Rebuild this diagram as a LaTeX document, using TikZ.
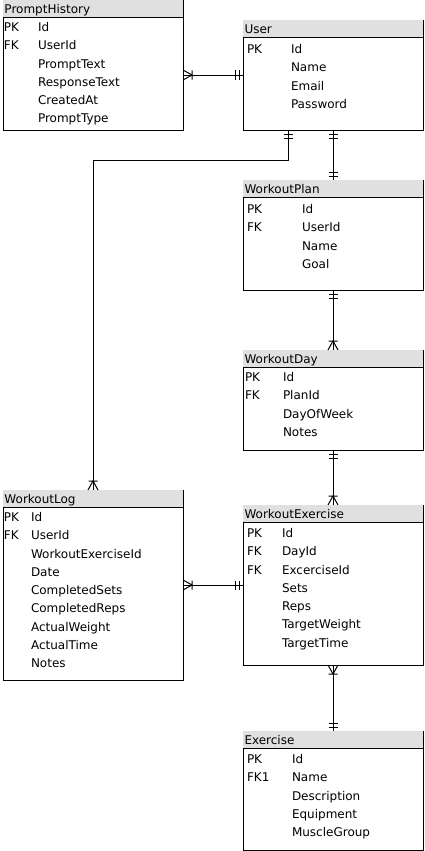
\documentclass[tikz,border=0pt]{standalone}
\usepackage{fontspec}
\setmainfont{DejaVu Sans}
\definecolor{hdr}{RGB}{224,224,224}
\tikzset{
  tblline/.style={line width=1pt, draw=black},
  lbl/.style={inner sep=0pt, outer sep=0pt, font=\fontsize{12}{14}\selectfont, text=black},
  conn/.style={line width=1pt, draw=black},
  pics/crow/.style={code={\draw[conn] (0,-5)--(9,0)--(0,5) (9,-4.5)--(9,4.5);}},
  pics/bars/.style={code={\draw[conn] (4,-4.5)--(4,4.5) (8,-4.5)--(8,4.5);}},
}
% name, x, top, header bottom, bottom, title
\newcommand{\ertable}[6]{%
  \pgfmathsetmacro\tblh{#5-#3}%
  \node[draw=none, minimum width=180pt, minimum height=\tblh pt, inner sep=0pt, outer sep=0pt, anchor=north west] (#1) at (#2,#3) {};
  \fill[hdr] (#2,#3) rectangle (#2+180,#4);
  \draw[tblline] (#2,#4) rectangle (#2+180,#5);
  \draw[tblline] (#2+180,#3) -- (#2+180,#4);
  \node[lbl, anchor=base west] (#1-title) at (#2+1.5,{(#3+#4)/2+4.4}) {#6};
}
% name, keyx, fieldx, y, key, field
\newcommand{\fld}[6]{%
  \node[lbl, anchor=base west] (#1k) at (#2,#4+4.4) {#5};
  \node[lbl, anchor=base west] (#1f) at (#3,#4+4.4) {#6};
}
\begin{document}
\begin{tikzpicture}[x=1pt,y=-1pt]
\useasboundingbox (0,0) rectangle (424,851);

% PromptHistory
\ertable{ph}{3}{0}{17.5}{130}{PromptHistory}
\fld{ph1}{4}{38}{27}{PK}{Id}
\fld{ph2}{4}{38}{45.3}{FK}{UserId}
\fld{ph3}{4}{38}{63.6}{}{PromptText}
\fld{ph4}{4}{38}{81.9}{}{ResponseText}
\fld{ph5}{4}{38}{100.2}{}{CreatedAt}
\fld{ph6}{4}{38}{118.5}{}{PromptType}

% User
\ertable{user}{243}{20}{37.5}{130}{User}
\fld{us1}{247}{291}{49}{PK}{Id}
\fld{us2}{247}{291}{67.3}{}{Name}
\fld{us3}{247}{291}{85.6}{}{Email}
\fld{us4}{247}{291}{103.9}{}{Password}

% WorkoutPlan
\ertable{plan}{243}{180}{197.5}{290}{WorkoutPlan}
\fld{pl1}{247}{302}{209}{PK}{Id}
\fld{pl2}{247}{302}{227.3}{FK}{UserId}
\fld{pl3}{247}{302}{245.6}{}{Name}
\fld{pl4}{247}{302}{263.9}{}{Goal}

% WorkoutDay
\ertable{day}{243}{350}{367.5}{450}{WorkoutDay}
\fld{dy1}{245}{283}{377}{PK}{Id}
\fld{dy2}{245}{283}{395.3}{FK}{PlanId}
\fld{dy3}{245}{283}{413.6}{}{DayOfWeek}
\fld{dy4}{245}{283}{431.9}{}{Notes}

% WorkoutExercise
\ertable{wex}{243}{505}{522.5}{665}{WorkoutExercise}
\fld{we1}{247}{282}{533}{PK}{Id}
\fld{we2}{247}{282}{551.3}{FK}{DayId}
\fld{we3}{247}{282}{569.6}{FK}{ExcerciseId}
\fld{we4}{247}{282}{587.9}{}{Sets}
\fld{we5}{247}{282}{606.2}{}{Reps}
\fld{we6}{247}{282}{624.5}{}{TargetWeight}
\fld{we7}{247}{282}{642.8}{}{TargetTime}

% WorkoutLog
\ertable{wlog}{3}{490}{507.5}{680}{WorkoutLog}
\fld{wl1}{4}{31}{517}{PK}{Id}
\fld{wl2}{4}{31}{535.3}{FK}{UserId}
\fld{wl3}{4}{31}{553.6}{}{WorkoutExerciseId}
\fld{wl4}{4}{31}{571.9}{}{Date}
\fld{wl5}{4}{31}{590.2}{}{CompletedSets}
\fld{wl6}{4}{31}{608.5}{}{CompletedReps}
\fld{wl7}{4}{31}{626.8}{}{ActualWeight}
\fld{wl8}{4}{31}{645.1}{}{ActualTime}
\fld{wl9}{4}{31}{663.4}{}{Notes}

% Exercise
\ertable{ex}{243}{731}{748.5}{850}{Exercise}
\fld{ex1}{247}{292}{759}{PK}{Id}
\fld{ex2}{247}{292}{777.3}{FK1}{Name}
\fld{ex3}{247}{292}{795.6}{}{Description}
\fld{ex4}{247}{292}{813.9}{}{Equipment}
\fld{ex5}{247}{292}{832.2}{}{MuscleGroup}

% helper coordinates
\coordinate (r1) at (0,75);
\coordinate (r2) at (0,585);
\coordinate (c2) at (288,0);
\coordinate (j2) at (0,160.5);

% PromptHistory -- User
\draw[conn] (ph.east |- r1) -- (user.west |- r1);
\pic at (ph.east |- r1) {crow};
\pic[rotate=180] at (user.west |- r1) {bars};

% User -- WorkoutLog
\draw[conn] (user.south -| c2) -- (c2 |- j2) -| (wlog.north);
\pic[rotate=-90] at (user.south -| c2) {bars};
\pic[rotate=90] at (wlog.north) {crow};

% User -- WorkoutPlan
\draw[conn] (user.south) -- (plan.north);
\pic[rotate=-90] at (user.south) {bars};
\pic[rotate=90] at (plan.north) {bars};

% WorkoutPlan -- WorkoutDay
\draw[conn] (plan.south) -- (day.north);
\pic[rotate=-90] at (plan.south) {bars};
\pic[rotate=90] at (day.north) {crow};

% WorkoutDay -- WorkoutExercise
\draw[conn] (day.south) -- (wex.north);
\pic[rotate=-90] at (day.south) {bars};
\pic[rotate=90] at (wex.north) {crow};

% WorkoutExercise -- Exercise
\draw[conn] (wex.south) -- (ex.north);
\pic[rotate=-90] at (wex.south) {crow};
\pic[rotate=90] at (ex.north) {bars};

% WorkoutLog -- WorkoutExercise
\draw[conn] (wlog.east |- r2) -- (wex.west |- r2);
\pic at (wlog.east |- r2) {crow};
\pic[rotate=180] at (wex.west |- r2) {bars};
\end{tikzpicture}
\end{document}
